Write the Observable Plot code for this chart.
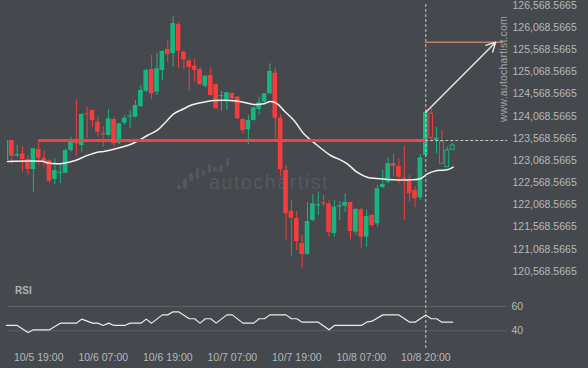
<!DOCTYPE html>
<html><head><meta charset="utf-8">
<script src="https://cdn.jsdelivr.net/npm/d3@7"></script>
<script src="https://cdn.jsdelivr.net/npm/@observablehq/plot@0.6"></script>
<style>
html,body{margin:0;padding:0;background:#45484d;}
#wrap{position:relative;width:588px;height:368px;overflow:hidden;font-family:"Liberation Sans",Arial,sans-serif;background:#45484d;}
#main,#rsi{position:absolute;left:0;}
#main{top:0;}
#rsi{top:280px;}
.wm{position:absolute;color:#55585d;font-size:19.5px;letter-spacing:1.6px;left:209px;top:171px;line-height:22px;}
.bar{position:absolute;background:#54575c;border-radius:1.5px;width:3.5px;}
#rsiLabel{position:absolute;left:15px;top:285px;font-size:10px;line-height:12px;font-weight:bold;color:#aeb2b7;}
#www{position:absolute;left:503px;top:69px;transform:translate(-50%,-50%) rotate(-90deg);font-size:10.5px;color:#a0a4a9;white-space:nowrap;letter-spacing:0.2px;}
</style></head><body>
<div id="wrap">
  <div class="bar" style="left:177px;top:185px;height:4.3px"></div>
  <div class="bar" style="left:183px;top:177.7px;height:11.5px"></div>
  <div class="bar" style="left:189px;top:173px;height:7.7px"></div>
  <div class="bar" style="left:195.5px;top:167px;height:12px"></div>
  <div class="bar" style="left:201.5px;top:170px;height:5px"></div>
  <div class="bar" style="left:207.5px;top:164px;height:8.7px"></div>
  <div class="bar" style="left:213px;top:166.7px;height:5px"></div>
  <div class="bar" style="left:219px;top:165px;height:6.7px"></div>
  <div class="bar" style="left:225.7px;top:158.3px;height:7.7px"></div>
  <div class="wm">autochartist</div>
  <div id="main"></div>
  <div id="rsi"></div>
  <div id="rsiLabel">RSI</div>
  <div id="www">www.autochartist.com</div>
</div>
<script>
// ---- data (hourly candles, index 0..83) ----
const candleOpen = [123070,123520,123167,123221,123092,122867,123318,123122,123070,122642,
122780,122784,123295,123536,123408,124117,124196,123933,123670,123633,
123993,123460,123910,124045,124045,124286,124631,125120,124608,125097,
125570,125480,126134,125510,125307,125194,125120,124744,124985,124782,
124505,124422,124579,124496,123993,123761,123971,124219,124383,124572,
125037,124023,122844,121927,121763,121200,120952,121718,122045,122120,
122094,121425,122022,122040,122123,121454,121959,121342,121831,121644,
122461,122581,123002,122935,122675,122635,122394,122229,123182,124122,
123535,123491,122919,123311];
const candleClose = [123520,123167,123198,123092,122867,123333,123122,123054,122603,122844,
122806,123295,123482,123446,124106,124095,123971,123707,123645,124009,
123446,123897,124023,124070,124309,124647,125097,124572,125136,125525,
125458,126156,125532,125338,125165,125097,124782,124969,124534,124235,
124530,124595,124460,124009,123746,123971,124257,124370,124572,125075,
124023,122860,121869,121770,121245,120952,121695,122094,122070,122095,
121454,122018,122047,122123,121470,121966,121342,121808,121605,122432,
122529,123002,122935,122693,122650,122320,122207,123131,124158,123581,
123560,122995,123295,123408];
const candleHigh = [123525,123525,123408,123378,123182,123340,123498,123273,123081,123108,
122995,123333,123595,124437,124117,124280,124208,124045,123836,124219,
124045,123903,124084,124196,124422,124760,125136,125435,125487,125548,
125773,126314,126168,125532,125356,125356,125165,124985,125149,124793,
124624,124602,124590,124512,124005,124084,124270,124496,124579,125248,
125149,124099,122957,122168,121921,121380,122123,122304,122356,122281,
122168,122168,122146,122320,122135,121988,121988,121943,121853,122507,
122850,123131,123221,123108,123392,122732,122484,123205,124174,124235,
123813,123746,123369,123460];
const candleLow = [123047,122980,123131,122806,122732,122356,122957,122919,122558,122522,
122545,122777,123257,123160,123257,123559,123820,123595,123369,123595,
123369,123430,123858,123797,124030,124264,124602,124437,124534,124872,
125278,125172,125142,125113,124631,124834,124760,124708,124518,124225,
124180,124196,124383,124000,123671,123430,123955,124084,124354,124563,
123520,122693,121283,120907,121042,120648,120929,121695,121831,122033,
121342,121342,121718,121905,121283,121380,121087,121110,121560,121567,
122439,122552,122693,122545,121718,122130,122004,122168,123126,123482,
123221,122991,122912,123306];
const hollowFrom = 79;

// moving average, read at positions (candle index, price)
const maIdx = [0.2,6.9,7.6,9.4,10.7,12.8,15.0,16.9,18.1,20.3,22.5,23.7,26.2,28.0,29.9,31.1,33.0,34.2,36.1,38.6,41.7,44.1,46.0,47.9,49.1,50.4,51.6,53.5,55.3,57.1,60.3,62.1,63.4,65.2,67.1,69.6,72.1,75.2,77.0,78.3,80.1,82.0,83.1];
const maVal = [123047,123047,123018,122995,123009,123070,123182,123257,123273,123333,123408,123464,123633,123746,123971,124122,124235,124309,124370,124422,124422,124383,124331,124347,124399,124347,124196,123971,123671,123482,123182,123085,122995,122806,122693,122657,122635,122635,122657,122770,122844,122860,122919];

// RSI, read at positions (candle index, value)
const rsiIdx = [0,2,4,5,8,10,13,14,16,17,18,19,20,22,23,25,26,27,29,30,31,32,34,35,36,37,38,39,41,42,44,46,47,48,49,52,53,54,55,58,60,61,66,67,68,70,73,75,76,78,79,80,81,83];
const rsiVal = [44.4,44.4,38.6,40.8,40.8,46.3,46.3,49.6,46.3,46.3,44.4,46.3,44.4,44.4,46.3,46.3,49.6,46.3,53.1,53.1,55.6,55.6,49.9,49.9,46.3,49.9,49.9,46.3,53.1,53.1,46.3,46.3,49.9,49.9,53.1,53.1,49.9,49.9,47.1,47.1,40.8,44.4,44.4,47.1,47.9,53.1,53.1,47.1,47.1,53.1,49.9,49.9,47.1,47.1];
const rsiTicks = [40, 60];

// pattern / forecast
const levelPrice = 123520;
const levelFrom = 6;
const signalIdx = 78;
const targetPrice = 125735;
const arrowEndIdx = 91;
const targetEndIdx = 92.5;

// axes
const yTicks = [120568.5665,121068.5665,121568.5665,122068.5665,122568.5665,123068.5665,123568.5665,124068.5665,124568.5665,125068.5665,125568.5665,126068.5665,126568.5665];
const timeIdx = [6,18,30,42,54,66,78];
const timeLabels = ["10/5 19:00","10/6 07:00","10/6 19:00","10/7 07:00","10/7 19:00","10/8 07:00","10/8 20:00"];

// ---- build ----
const UP = "#17b680", DOWN = "#f53d3d", BG = "#45484d";
const candles = d3.range(candleClose.length).map(i => ({
  i, o: candleOpen[i], c: candleClose[i], h: candleHigh[i], l: candleLow[i],
  up: candleClose[i] >= candleOpen[i], hollow: i >= hollowFrom
}));
const upC = candles.filter(d => d.up), dnC = candles.filter(d => !d.up);
const upFilled = upC.filter(d => !d.hollow), dnFilled = dnC.filter(d => !d.hollow);
const upHollow = upC.filter(d => d.hollow), dnHollow = dnC.filter(d => d.hollow);
const ma = maIdx.map((x, k) => ({x, y: maVal[k]}));
const rsi = rsiIdx.map((x, k) => ({x, y: rsiVal[k]}));
const xDomain = [0.19, 93.2];
const font = "'Liberation Sans', Arial, sans-serif";
const half = 0.43, halfH = 0.36;

const main = Plot.plot({
  width: 588, height: 280,
  marginLeft: 7, marginRight: 81, marginTop: 4, marginBottom: 0,
  x: {domain: xDomain, axis: null, label: null},
  y: {domain: [120366, 126674.5], range: [280, 0], label: null},
  style: {background: "transparent", color: "#b4b8bd", fontFamily: font, fontSize: "10.5px"},
  marks: [
    Plot.ruleX(upC, {x: "i", y1: "l", y2: "h", stroke: UP, strokeWidth: 1, clip: true}),
    Plot.ruleX(dnC, {x: "i", y1: "l", y2: "h", stroke: DOWN, strokeWidth: 1, clip: true}),
    Plot.rect(upFilled, {x1: d => d.i - half, x2: d => d.i + half, y1: "o", y2: "c", fill: UP, clip: true}),
    Plot.rect(dnFilled, {x1: d => d.i - half, x2: d => d.i + half, y1: "o", y2: "c", fill: DOWN, clip: true}),
    Plot.rect(upHollow, {x1: d => d.i - halfH, x2: d => d.i + halfH, y1: "o", y2: "c", fill: BG, stroke: UP, strokeWidth: 1}),
    Plot.rect(dnHollow, {x1: d => d.i - halfH, x2: d => d.i + halfH, y1: "o", y2: "c", fill: BG, stroke: DOWN, strokeWidth: 1}),
    Plot.line(ma, {x: "x", y: "y", stroke: "#f2f2f2", strokeWidth: 1.5, curve: "catmull-rom"}),
    Plot.ruleX([signalIdx], {stroke: "#c8c8c8", strokeWidth: 1, strokeDasharray: "3,2"}),
    Plot.ruleY([{y: levelPrice, x1: signalIdx, x2: xDomain[1]}], {y: "y", x1: "x1", x2: "x2", stroke: "#c8c8c8", strokeWidth: 1, strokeDasharray: "3,2"}),
    Plot.ruleY([{y: levelPrice, x1: levelFrom, x2: signalIdx}], {y: "y", x1: "x1", x2: "x2", stroke: "#ef4444", strokeWidth: 3}),
    Plot.ruleY([{y: targetPrice, x1: signalIdx, x2: targetEndIdx}], {y: "y", x1: "x1", x2: "x2", stroke: "#f0a070", strokeWidth: 1}),
    Plot.arrow([{x1: signalIdx, y1: candleClose[signalIdx], x2: arrowEndIdx, y2: targetPrice}],
      {x1: "x1", y1: "y1", x2: "x2", y2: "y2", stroke: "#e8e8e8", strokeWidth: 1.4, headLength: 11, headAngle: 55}),
    Plot.axisY(yTicks, {anchor: "right", tickSize: 0, tickPadding: 5, fontSize: 10.5, tickFormat: d3.format(",.4f")})
  ]
});
document.getElementById("main").appendChild(main);

const rsiPlot = Plot.plot({
  width: 588, height: 88,
  marginLeft: 7, marginRight: 81, marginTop: 0, marginBottom: 18,
  x: {domain: xDomain, label: null},
  y: {domain: [40, 60], range: [50.3, 26], label: null},
  style: {background: "transparent", color: "#b4b8bd", fontFamily: font, fontSize: "10.5px"},
  marks: [
    Plot.ruleY(rsiTicks, {stroke: "#5d6065", strokeWidth: 1}),
    Plot.ruleX([signalIdx], {stroke: "#c8c8c8", strokeWidth: 1, strokeDasharray: "3,2"}),
    Plot.line(rsi, {x: "x", y: "y", stroke: "#ececec", strokeWidth: 1.2}),
    Plot.axisY(rsiTicks, {anchor: "right", tickSize: 0, tickPadding: 4, fontSize: 10.5}),
    Plot.axisX(timeIdx, {anchor: "bottom", tickSize: 0, tickPadding: 3, fontSize: 10.5,
      tickFormat: d => timeLabels[timeIdx.indexOf(d)]})
  ]
});
document.getElementById("rsi").appendChild(rsiPlot);
</script>
</body></html>
